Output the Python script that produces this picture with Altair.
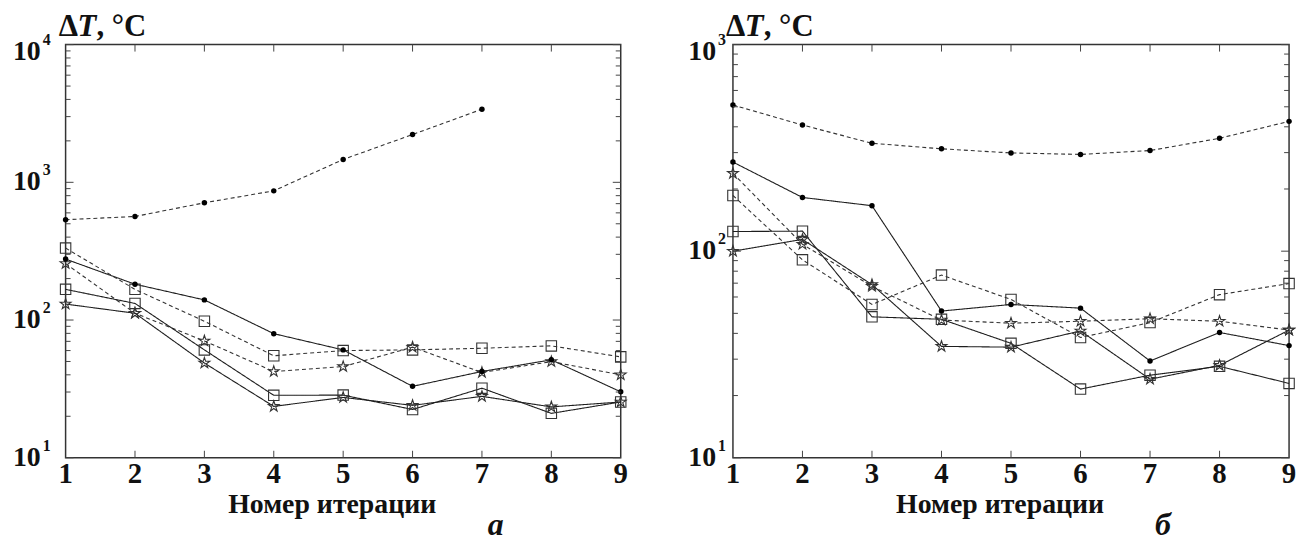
import altair as alt
import pandas as pd

FONT = "Liberation Serif"

iterations = [1, 2, 3, 4, 5, 6, 7, 8, 9]

# ---- panel "а" (values of ΔT, °C) ----
a_dotted_circle = [535, 565, 710, 867, 1466, 2223, 3396, None, None]
a_solid_circle = [277, 182, 140, 79.6, 60.7, 33, 42.3, 51.4, 30.1]
a_dashed_square = [333, 167, 98, 55, 60, 60.7, 62.4, 64.9, 54]
a_dashed_star = [257, 112, 70.5, 42.3, 45.9, 63.5, 41.6, 49.9, 40]
a_solid_square = [167, 132, 60.7, 28.4, 28.5, 22.4, 32, 21, 25.4]
a_solid_star = [130.6, 112, 48.7, 23.6, 27.4, 24, 27.9, 23.4, 25.4]

# ---- panel "б" ----
b_dotted_circle = [510, 408, 333, 313, 299, 294, 307, 352, 425]
b_solid_circle = [270, 182, 166, 51.3, 55.2, 53, 29.4, 40.4, 34.9]
b_dashed_square = [186, 90.8, 55.2, 76.6, 58.4, 38.2, 45.1, 61.6, 69.7]
b_dashed_star = [238, 108, 67.6, 46.4, 44.8, 45.8, 47.1, 45.8, 41.5]
b_solid_square = [124.5, 125, 48.1, 46.8, 35.8, 21.5, 25.1, 27.7, 22.9]
b_solid_star = [100, 114, 68.9, 34.6, 34.3, 41.1, 24, 28, 41.5]

series_style = {
    "dotted_circle": ("dashed", "circle"),
    "solid_circle": ("solid", "circle"),
    "dashed_square": ("dashed", "square"),
    "dashed_star": ("dashed", "star"),
    "solid_square": ("solid", "square"),
    "solid_star": ("solid", "star"),
}

a_series = {
    "dotted_circle": a_dotted_circle, "solid_circle": a_solid_circle,
    "dashed_square": a_dashed_square, "dashed_star": a_dashed_star,
    "solid_square": a_solid_square, "solid_star": a_solid_star,
}
b_series = {
    "dotted_circle": b_dotted_circle, "solid_circle": b_solid_circle,
    "dashed_square": b_dashed_square, "dashed_star": b_dashed_star,
    "solid_square": b_solid_square, "solid_star": b_solid_star,
}

a_y_ticks = [10, 100, 1000, 10000]
a_y_exps = ["1", "2", "3", "4"]
b_y_ticks = [10, 100, 1000]
b_y_exps = ["1", "2", "3"]
tick_base = "10"
x_tick_labels = ["1", "2", "3", "4", "5", "6", "7", "8", "9"]

x_title = "Номер итерации"
panel_letters = ["а", "б"]
y_title_parts = ["Δ", "T", ", °C"]

STAR = ("M0,-1L0.2245,-0.309L0.951,-0.309L0.363,0.118L0.588,0.809L0,0.382"
        "L-0.588,0.809L-0.363,0.118L-0.951,-0.309L-0.2245,-0.309Z")


def make_df(series):
    rows = []
    for name, vals in series.items():
        dash, mk = series_style[name]
        for it, v in zip(iterations, vals):
            if v is not None:
                rows.append({"it": it, "v": v, "s": name, "dash": dash, "mk": mk})
    return pd.DataFrame(rows)


def panel(series, yticks, yexps, width, height, lab_off, letter, title_dx):
    ymax = yticks[-1]
    df = make_df(series)
    xs = alt.Scale(domain=[1, 9], nice=False, zero=False)
    ys = alt.Scale(type="log", domain=[10, ymax], nice=False)
    Y = alt.Y("v:Q", scale=ys, axis=None)
    X = alt.X("it:Q", scale=xs, axis=None)

    lines = alt.Chart(df).mark_line(strokeWidth=1.1).encode(
        x=X, y=Y, detail="s:N",
        strokeDash=alt.StrokeDash("dash:N", scale=alt.Scale(
            domain=["solid", "dashed"], range=[[1, 0], [4, 3]]), legend=None),
        color=alt.Color("dash:N", scale=alt.Scale(
            domain=["solid", "dashed"], range=["#1e1e1e", "#333333"]), legend=None),
    )
    circles = alt.Chart(df).transform_filter("datum.mk == 'circle'").mark_circle(
        size=30, color="#000", opacity=1).encode(x=X, y=Y)
    others = alt.Chart(df).transform_filter("datum.mk != 'circle'").mark_point(
        filled=False, strokeWidth=1.1, color="#333", opacity=1).encode(
        x=X, y=Y,
        shape=alt.Shape("mk:N", scale=alt.Scale(domain=["square", "star"],
                                                range=["square", STAR]), legend=None),
        size=alt.Size("mk:N", scale=alt.Scale(domain=["square", "star"],
                                              range=[110, 130]), legend=None),
    )

    # inward tick marks
    major = pd.DataFrame({"v": yticks})
    minor_vals = []
    for d in yticks[:-1]:
        for m in range(2, 10):
            minor_vals.append(d * m)
    minor = pd.DataFrame({"v": minor_vals})
    tcol = "#444"
    ymaj_l = alt.Chart(major).mark_rule(color=tcol, strokeWidth=1).encode(
        y=Y, x=alt.value(0), x2=alt.value(8))
    ymaj_r = alt.Chart(major).mark_rule(color=tcol, strokeWidth=1).encode(
        y=Y, x=alt.value(width - 8), x2=alt.value(width))
    ymin_l = alt.Chart(minor).mark_rule(color=tcol, strokeWidth=1).encode(
        y=Y, x=alt.value(0), x2=alt.value(5))
    ymin_r = alt.Chart(minor).mark_rule(color=tcol, strokeWidth=1).encode(
        y=Y, x=alt.value(width - 5), x2=alt.value(width))
    xt = pd.DataFrame({"it": iterations[1:-1]})
    xt_b = alt.Chart(xt).mark_rule(color=tcol, strokeWidth=1).encode(
        x=X, y=alt.value(height), y2=alt.value(height - 7))
    xt_t = alt.Chart(xt).mark_rule(color=tcol, strokeWidth=1).encode(
        x=X, y=alt.value(0), y2=alt.value(7))

    # x tick labels and x title
    xl = pd.DataFrame({"it": iterations, "t": x_tick_labels})
    xlab = alt.Chart(xl).mark_text(
        font=FONT, fontSize=29, fontWeight="bold", color="#111",
        align="center", baseline="alphabetic").encode(
        x=X, y=alt.value(height + 25), text="t:N")
    xtit = alt.Chart(pd.DataFrame({"t": [x_title]})).mark_text(
        font=FONT, fontSize=28, fontWeight="bold", color="#111",
        align="center", baseline="alphabetic").encode(
        x=alt.value(width / 2 + title_dx), y=alt.value(height + 56), text="t:N")

    # y tick labels "10" with superscript exponents
    lab = pd.DataFrame({"v": yticks, "base": [tick_base] * len(yticks), "e": yexps})
    low = alt.Chart(lab).transform_filter(f"datum.v < {ymax}")
    top = alt.Chart(lab).transform_filter(f"datum.v >= {ymax}")
    base_kw = dict(font=FONT, fontSize=28, fontWeight="bold", color="#111",
                   baseline="middle")
    exp_kw = dict(font=FONT, fontSize=16, fontWeight="bold", color="#111",
                  baseline="middle", align="left")
    lab_low = low.mark_text(align="right", **base_kw).encode(
        y=Y, x=alt.value(-lab_off), text="base:N")
    exp_low = low.mark_text(dy=-12, **exp_kw).encode(
        y=Y, x=alt.value(-lab_off + 2), text="e:N")
    lab_top = top.mark_text(align="right", dy=7, **base_kw).encode(
        y=Y, x=alt.value(-lab_off), text="base:N")
    exp_top = top.mark_text(dy=-5, **exp_kw).encode(
        y=Y, x=alt.value(-lab_off + 2), text="e:N")

    # y title "ΔT, °C"
    tdf = pd.DataFrame({"t": y_title_parts})
    tkw = dict(font=FONT, fontSize=31, fontWeight="bold", color="#111",
               baseline="alphabetic", align="left")
    t1 = alt.Chart(tdf).transform_filter("datum.t == 'Δ'").mark_text(**tkw).encode(
        x=alt.value(-7), y=alt.value(-9), text="t:N")
    t2 = alt.Chart(tdf).transform_filter("datum.t == 'T'").mark_text(
        fontStyle="italic", **tkw).encode(x=alt.value(12), y=alt.value(-9), text="t:N")
    t3 = alt.Chart(tdf).transform_filter("datum.t == ', °C'").mark_text(**tkw).encode(
        x=alt.value(31), y=alt.value(-9), text="t:N")

    letter_df = pd.DataFrame({"t": [letter]})
    let = alt.Chart(letter_df).mark_text(
        font=FONT, fontSize=32, fontWeight="bold", fontStyle="italic", color="#111",
        align="center", baseline="alphabetic").encode(
        x=alt.value(433), y=alt.value(height + 78), text="t:N")

    return alt.layer(lines, others, circles, ymaj_l, ymaj_r, ymin_l, ymin_r,
                     xt_b, xt_t, xlab, xtit, lab_low, exp_low, lab_top, exp_top,
                     t1, t2, t3, let).properties(width=width, height=height)


left = panel(a_series, a_y_ticks, a_y_exps, 559, 416, 25, panel_letters[0], -11)
right = panel(b_series, b_y_ticks, b_y_exps, 560, 416, 17, panel_letters[1], -11)

chart = alt.hconcat(left, right, spacing=113, bounds="flush").properties(
    padding={"left": 4, "top": 0, "right": 0, "bottom": 0}
).configure_view(stroke="#333", strokeWidth=1.5)

chart.save("out.html", embed_options={"renderer": "svg", "actions": False})
